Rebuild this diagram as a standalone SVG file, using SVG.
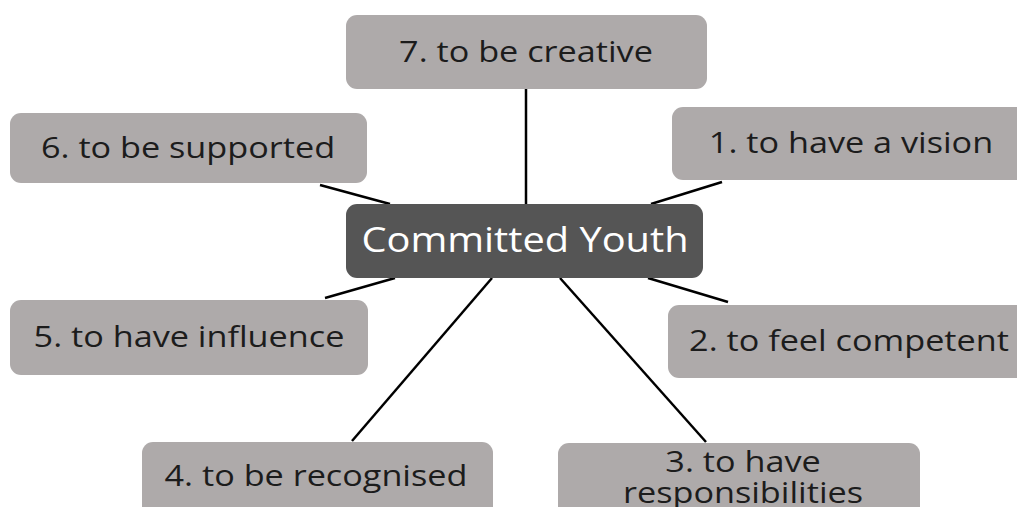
<svg xmlns="http://www.w3.org/2000/svg" width="1017" height="507" viewBox="0 0 1017 507">
<style>
.box{fill:#aeaaaa;}
.center{fill:#555555;}
.t{font-family:"Open Sans","DejaVu Sans",sans-serif;font-size:29px;fill:#1c1c1c;text-anchor:middle;}
.ct{font-family:"Open Sans","DejaVu Sans",sans-serif;font-size:34px;fill:#ffffff;text-anchor:middle;}
.c{stroke:#000;stroke-width:2.5;fill:none;}
</style>
<rect width="1017" height="507" fill="#fff"/>
<g id="connectors">
<line class="c" x1="526" y1="89" x2="526" y2="204"/>
<line class="c" x1="320" y1="185" x2="390" y2="204"/>
<line class="c" x1="722" y1="182" x2="651" y2="204"/>
<line class="c" x1="325" y1="298" x2="395" y2="278"/>
<line class="c" x1="648" y1="278" x2="728" y2="302"/>
<line class="c" x1="492" y1="278" x2="352" y2="441"/>
<line class="c" x1="560" y1="278" x2="706" y2="442"/>
</g>
<g id="n7"><rect class="box" x="346" y="15" width="361" height="74" rx="11"/><text class="t" transform="translate(526,62) scale(1.18,1)">7. to be creative</text></g>
<g id="n6"><rect class="box" x="10" y="113" width="357" height="70" rx="11"/><text class="t" transform="translate(188,158) scale(1.18,1)">6. to be supported</text></g>
<g id="n1"><rect class="box" x="672" y="107" width="360" height="73" rx="11"/><text class="t" transform="translate(851,153) scale(1.18,1)">1. to have a vision</text></g>
<g id="n2"><rect class="box" x="668" y="305" width="362" height="73" rx="11"/><text class="t" transform="translate(849,351) scale(1.18,1)">2. to feel competent</text></g>
<g id="n5"><rect class="box" x="10" y="300" width="358" height="75" rx="11"/><text class="t" transform="translate(189,347) scale(1.18,1)">5. to have influence</text></g>
<g id="n4"><rect class="box" x="142" y="442" width="351" height="80" rx="11"/><text class="t" transform="translate(316,486) scale(1.18,1)">4. to be recognised</text></g>
<g id="n3"><rect class="box" x="558" y="443" width="362" height="80" rx="11"/><text class="t" transform="translate(743,472) scale(1.18,1)">3. to have</text><text class="t" transform="translate(743,503) scale(1.18,1)">responsibilities</text></g>
<g id="center"><rect class="center" x="346" y="204" width="357" height="74" rx="11"/><text class="ct" transform="translate(525,252) scale(1.17,1)">Committed Youth</text></g>
</svg>
